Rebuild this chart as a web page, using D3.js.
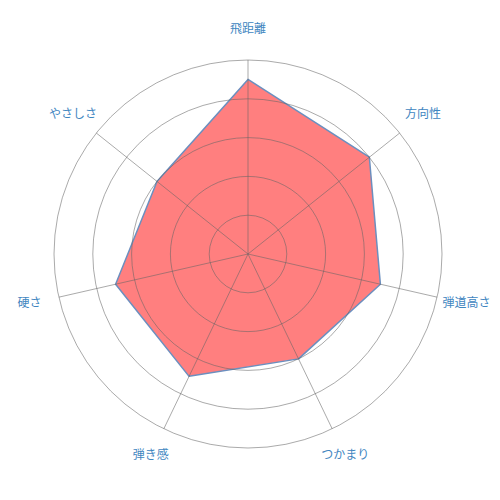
<!DOCTYPE html>
<html>
<head>
<meta charset="utf-8">
<script src="https://cdn.jsdelivr.net/npm/d3@7"></script>
<style>
  body { margin: 0; background: #fff; }
  .axis-label { font-family: "Noto Sans CJK JP", sans-serif; font-size: 12px; fill: #3f86bf; }
</style>
</head>
<body>
<div id="chart"></div>
<script>
// axis names, clockwise from top
const categories = ["飛距離", "方向性", "弾道高さ", "つかまり", "弾き感", "硬さ", "やさしさ"];
// scores on a 0-5 scale
const values = [4.5, 4.0, 3.5, 3.0, 3.5, 3.5, 3.0];
const ringLevels = [1, 2, 3, 4, 5];

const width = 500, height = 500;
const cx = 248, cy = 254;
const radius = 194;

const svg = d3.select("#chart").append("svg")
    .attr("width", width)
    .attr("height", height);

const g = svg.append("g")
    .attr("transform", "translate(" + cx + "," + cy + ")");

const r = d3.scaleLinear().domain([0, 5]).range([0, radius]);
const angle = d3.scaleLinear().domain([0, categories.length]).range([0, 2 * Math.PI]);

// data polygon
const line = d3.lineRadial()
    .angle((d, i) => angle(i))
    .radius(d => r(d))
    .curve(d3.curveLinearClosed);

g.append("path")
    .datum(values)
    .attr("d", line)
    .attr("fill", "rgba(255, 0, 0, 0.5)")
    .attr("stroke", "#6b8fbf")
    .attr("stroke-width", 1.5)
    .attr("stroke-linejoin", "round");

// rings
g.selectAll(".ring")
    .data(ringLevels)
    .enter().append("circle")
    .attr("class", "ring")
    .attr("r", d => r(d))
    .attr("fill", "none")
    .attr("stroke", "rgba(100, 100, 100, 0.55)")
    .attr("stroke-width", 1);

// spokes
g.selectAll(".spoke")
    .data(categories)
    .enter().append("line")
    .attr("class", "spoke")
    .attr("x1", 0)
    .attr("y1", 0)
    .attr("x2", (d, i) => r(5) * Math.sin(angle(i)))
    .attr("y2", (d, i) => -r(5) * Math.cos(angle(i)))
    .attr("stroke", "rgba(100, 100, 100, 0.55)")
    .attr("stroke-width", 1);

// labels
const labelR = radius + 30;
g.selectAll(".axis-label")
    .data(categories)
    .enter().append("text")
    .attr("class", "axis-label")
    .attr("x", (d, i) => labelR * Math.sin(angle(i)))
    .attr("y", (d, i) => -labelR * Math.cos(angle(i)))
    .attr("text-anchor", "middle")
    .attr("dominant-baseline", "middle")
    .text(d => d);
</script>
</body>
</html>
